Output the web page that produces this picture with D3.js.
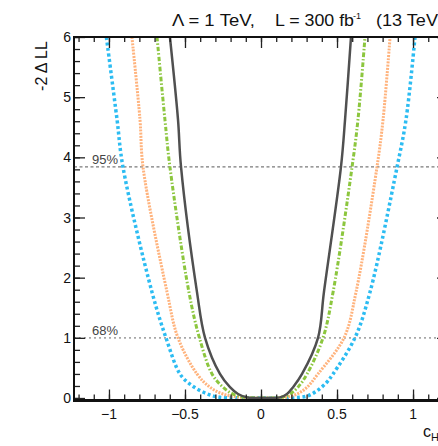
<!DOCTYPE html>
<html>
<head>
<meta charset="utf-8">
<script src="https://cdn.jsdelivr.net/npm/d3@7"></script>
<style>
  html, body { margin: 0; padding: 0; background: #fff; overflow: hidden; }
  svg { display: block; }
  text { font-family: "Liberation Sans", Arial, Helvetica, sans-serif; }
</style>
</head>
<body>
<svg id="chart" width="438" height="446"></svg>
<script>
// ---- data ----
const xTicks = [-1, -0.5, 0, 0.5, 1];
const xTickLabels = ["\u22121", "\u22120.5", "0", "0.5", "1"];
const yTicks = [0, 1, 2, 3, 4, 5, 6];
const yTickLabels = ["0", "1", "2", "3", "4", "5", "6"];
const clLevels = [1.0, 3.84];
const clLabels = ["68%", "95%"];

// [cH, -2ΔLL] points per curve
const curveBlack = [
  [-0.599, 6.0], [-0.546, 4.63], [-0.526, 3.84], [-0.421, 1.76], [-0.368, 1.0],
  [-0.27, 0.4], [-0.204, 0.18], [-0.151, 0.066], [-0.09, 0.01], [0.03, 0],
  [0.125, 0.01], [0.171, 0.066], [0.211, 0.18], [0.27, 0.4], [0.375, 1.0],
  [0.414, 1.76], [0.526, 3.84], [0.553, 4.63], [0.592, 6.0]
];
const curveGreen = [
  [-0.684, 6.0], [-0.632, 4.63], [-0.599, 3.84], [-0.474, 1.76], [-0.405, 1.0],
  [-0.322, 0.4], [-0.25, 0.18], [-0.184, 0.066], [-0.1, 0.01], [0.03, 0],
  [0.13, 0.01], [0.191, 0.066], [0.243, 0.18], [0.303, 0.4], [0.408, 1.0],
  [0.474, 1.76], [0.599, 3.84], [0.638, 4.63], [0.684, 6.0]
];
const curveOrange = [
  [-0.849, 6.0], [-0.796, 4.63], [-0.776, 3.84], [-0.618, 1.76], [-0.546, 1.0],
  [-0.421, 0.4], [-0.336, 0.18], [-0.25, 0.066], [-0.13, 0.01], [0.03, 0],
  [0.15, 0.01], [0.237, 0.066], [0.303, 0.18], [0.375, 0.4], [0.546, 1.0],
  [0.625, 1.76], [0.763, 3.84], [0.803, 4.63], [0.849, 6.0]
];
const curveBlue = [
  [-1.017, 6.0], [-0.947, 4.63], [-0.908, 3.84], [-0.717, 1.76], [-0.625, 1.0],
  [-0.533, 0.4], [-0.467, 0.23], [-0.382, 0.1], [-0.289, 0.02], [-0.15, 0.003],
  [0.03, 0], [0.2, 0.004], [0.3, 0.03], [0.368, 0.12], [0.434, 0.265],
  [0.474, 0.4], [0.618, 1.0], [0.717, 1.76], [0.895, 3.84], [0.954, 4.63],
  [1.013, 6.0]
];

// ---- layout ----
const svg = d3.select("#chart");
const L = 74, R = 448, T = 37, B = 398;
const x = d3.scaleLinear().domain([-1.23, 1.23]).range([L, R]);
const y = d3.scaleLinear().domain([0, 6]).range([B, T]);
const frameB = B + 2.5;

svg.append("rect").attr("width", 438).attr("height", 446).attr("fill", "#fff");

svg.append("defs").append("clipPath").attr("id", "plotclip")
  .append("rect").attr("x", L).attr("y", T).attr("width", R - L).attr("height", frameB - T);

// CL reference lines
const refStyles = [
  { color: "#a8a8a8", dash: "2,3", width: 1.6 },
  { color: "#7a7a7a", dash: "3,2.5", width: 1.2 }
];
const gRef = svg.append("g");
clLevels.forEach((v, i) => {
  gRef.append("line")
    .attr("x1", L).attr("x2", R).attr("y1", y(v)).attr("y2", y(v))
    .attr("stroke", refStyles[i].color).attr("stroke-width", refStyles[i].width)
    .attr("stroke-dasharray", refStyles[i].dash);
  gRef.append("text")
    .attr("x", 92).attr("y", y(v) - 3)
    .attr("font-size", 13).attr("fill", "#444")
    .text(clLabels[i]);
});

// curves
const line = d3.line().x(d => x(d[0])).y(d => y(d[1])).curve(d3.curveCatmullRom.alpha(0.5));
const gCurves = svg.append("g").attr("clip-path", "url(#plotclip)");
const series = [
  { data: curveBlue, color: "#2cbcf2", width: 3.5, dash: "3,2.6" },
  { data: curveOrange, color: "#ffb37d", width: 3, dash: "2,1.2" },
  { data: curveGreen, color: "#8cc63e", width: 3, dash: "4.5,2,1.5,2" },
  { data: curveBlack, color: "#505050", width: 2.5, dash: null }
];
series.forEach(s => {
  const p = gCurves.append("path").datum(s.data)
    .attr("d", line).attr("fill", "none")
    .attr("stroke", s.color).attr("stroke-width", s.width);
  if (s.dash) p.attr("stroke-dasharray", s.dash);
});

// axes
const xMinor = d3.range(-12, 13).map(d => d / 10);
const yMinor = d3.range(0, 31).map(d => d / 5);

const axBottom = svg.append("g").attr("transform", `translate(0,${frameB})`)
  .call(d3.axisTop(x).tickValues(xMinor).tickSize(6).tickFormat(""));
const axBottomMaj = svg.append("g").attr("transform", `translate(0,${frameB})`)
  .call(d3.axisTop(x).tickValues(xTicks).tickSize(11).tickFormat(""));
const axTop = svg.append("g").attr("transform", `translate(0,${T})`)
  .call(d3.axisBottom(x).tickValues(xMinor).tickSize(5).tickFormat(""));
const axTopMaj = svg.append("g").attr("transform", `translate(0,${T})`)
  .call(d3.axisBottom(x).tickValues(xTicks).tickSize(11).tickFormat(""));
const axLeft = svg.append("g").attr("transform", `translate(${L},0)`)
  .call(d3.axisRight(y).tickValues(yMinor).tickSize(6).tickFormat(""));
const axLeftMaj = svg.append("g").attr("transform", `translate(${L},0)`)
  .call(d3.axisRight(y).tickValues(yTicks).tickSize(11).tickFormat(""));
const axRight = svg.append("g").attr("transform", `translate(${R},0)`)
  .call(d3.axisLeft(y).tickValues(yMinor).tickSize(6).tickFormat(""));
const axRightMaj = svg.append("g").attr("transform", `translate(${R},0)`)
  .call(d3.axisLeft(y).tickValues(yTicks).tickSize(11).tickFormat(""));

[axBottom, axBottomMaj, axTop, axTopMaj, axLeft, axLeftMaj, axRight, axRightMaj].forEach(g => {
  g.select(".domain").remove();
  g.selectAll(".tick line").attr("stroke", "#222").attr("stroke-width", 1.3);
});

// frame
svg.append("line").attr("x1", L).attr("x2", R).attr("y1", frameB).attr("y2", frameB)
  .attr("stroke", "#111").attr("stroke-width", 2.8);
svg.append("line").attr("x1", L).attr("x2", R).attr("y1", T).attr("y2", T)
  .attr("stroke", "#111").attr("stroke-width", 2);
svg.append("line").attr("x1", L).attr("x2", L).attr("y1", T - 1).attr("y2", frameB + 1.4)
  .attr("stroke", "#111").attr("stroke-width", 2);
svg.append("line").attr("x1", R).attr("x2", R).attr("y1", T - 1).attr("y2", frameB + 1.4)
  .attr("stroke", "#111").attr("stroke-width", 2);

// tick labels
svg.append("g").selectAll("text").data(xTicks).join("text")
  .attr("x", d => x(d)).attr("y", 419)
  .attr("text-anchor", "middle").attr("font-size", 14).attr("fill", "#111")
  .text((d, i) => xTickLabels[i]);
svg.append("g").selectAll("text").data(yTicks).join("text")
  .attr("x", 71).attr("y", d => y(d) + 5)
  .attr("text-anchor", "end").attr("font-size", 14).attr("fill", "#111")
  .text((d, i) => yTickLabels[i]);

// axis titles
svg.append("text")
  .attr("transform", "translate(47,66) rotate(-90)")
  .attr("text-anchor", "middle").attr("font-size", 16).attr("fill", "#111")
  .text("-2 \u0394 LL");

const xt = svg.append("text").attr("x", 423).attr("y", 437)
  .attr("font-size", 16).attr("fill", "#111");
xt.append("tspan").text("c");
xt.append("tspan").attr("dy", 4).attr("font-size", 11).text("H");

// title
const gTitle = svg.append("g").attr("font-size", 16).attr("fill", "#111");
gTitle.append("text").attr("x", 172).attr("y", 26)
  .attr("textLength", 83).attr("lengthAdjust", "spacingAndGlyphs")
  .text("\u039B = 1 TeV,");
gTitle.append("text").attr("x", 275).attr("y", 26)
  .attr("textLength", 79).attr("lengthAdjust", "spacingAndGlyphs")
  .text("L = 300 fb");
gTitle.append("text").attr("x", 353).attr("y", 19).attr("font-size", 9)
  .text("-1");
gTitle.append("text").attr("x", 376).attr("y", 26)
  .attr("textLength", 68).attr("lengthAdjust", "spacingAndGlyphs")
  .text("(13 TeV)");
</script>
</body>
</html>
